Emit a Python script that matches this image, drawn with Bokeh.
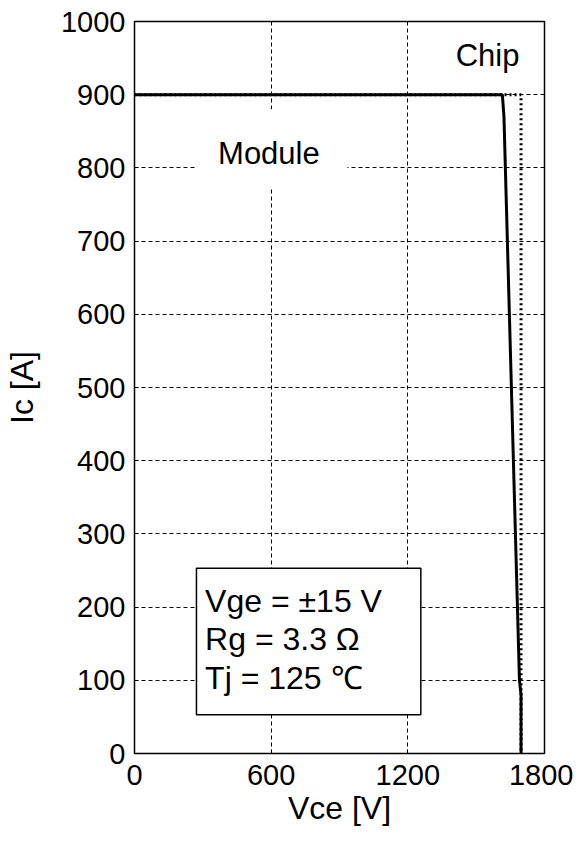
from bokeh.plotting import figure
from bokeh.models import Range1d, FixedTicker
from bokeh.embed import file_html
from bokeh.resources import INLINE
from bokeh.core.properties import value

# data
module_vce = [0, 1615, 1622, 1690, 1697, 1697]
module_ic = [900, 900, 870, 100, 80, 0]
chip_vce = [0, 1697, 1697]
chip_ic = [900, 900, 0]
x_ticks = [0, 600, 1200, 1800]
y_ticks = [0, 100, 200, 300, 400, 500, 600, 700, 800, 900, 1000]
cond_lines = ["Vge = \u00b115 V", "Rg = 3.3 \u03a9", "Tj = 125 \u2103"]

FONT = "Liberation Sans"

p = figure(width=573, height=833, output_backend="svg", toolbar_location=None,
           x_range=Range1d(0, 1800), y_range=Range1d(0, 1000),
           min_border_left=129, min_border_top=21, min_border_right=29,
           min_border_bottom=80)
p.background_fill_color = "white"
p.border_fill_color = "white"
p.outline_line_color = "black"
p.outline_line_width = 1.5

for ax in (p.xaxis, p.yaxis):
    ax.axis_line_color = None
    ax.major_tick_line_color = "black"
    ax.major_tick_in = 4
    ax.major_tick_out = 0
    ax.minor_tick_line_color = None
    ax.major_label_text_font = FONT
    ax.major_label_text_font_size = "29px"
    ax.major_label_text_color = "black"
    ax.axis_label_text_font = FONT
    ax.axis_label_text_font_size = "32px"
    ax.axis_label_text_font_style = "normal"
    ax.axis_label_text_color = "black"

p.xaxis.ticker = FixedTicker(ticks=x_ticks)
p.yaxis.ticker = FixedTicker(ticks=y_ticks)
p.xaxis.axis_label = "Vce [V]"
p.yaxis.axis_label = "Ic [A]"
p.xaxis.major_label_standoff = 11
p.yaxis.major_label_standoff = 9
p.xaxis.axis_label_standoff = 2
p.yaxis.axis_label_standoff = 18

p.xgrid.grid_line_color = "black"
p.ygrid.grid_line_color = "black"
p.xgrid.grid_line_dash = "4 3"
p.ygrid.grid_line_dash = "4 3"
p.xgrid.grid_line_width = 1
p.ygrid.grid_line_width = 1

p.line(chip_vce, chip_ic, line_color="black", line_width=3, line_dash="2 3")
p.line(module_vce, module_ic, line_color="black", line_width=3)

# condition box
p.quad(left=[272], right=[1257], bottom=[53], top=[253],
       fill_color="white", line_color="black", line_width=1.5)
p.text(x=[310, 310, 310], y=[208, 156, 103], text=cond_lines,
       text_font=value(FONT), text_font_size="32px", text_color="black",
       text_baseline="middle", text_align="left")

# white backing behind "Module" label
p.quad(left=[265], right=[935], bottom=[772], top=[880],
       fill_color="white", line_color=None)
p.text(x=[1550], y=[953], text=["Chip"], text_font=value(FONT),
       text_font_size="31px", text_color="black", text_baseline="middle",
       text_align="center")
p.text(x=[590], y=[819], text=["Module"], text_font=value(FONT),
       text_font_size="31px", text_color="black", text_baseline="middle",
       text_align="center")

open("out.html", "w").write(file_html(p, INLINE))
